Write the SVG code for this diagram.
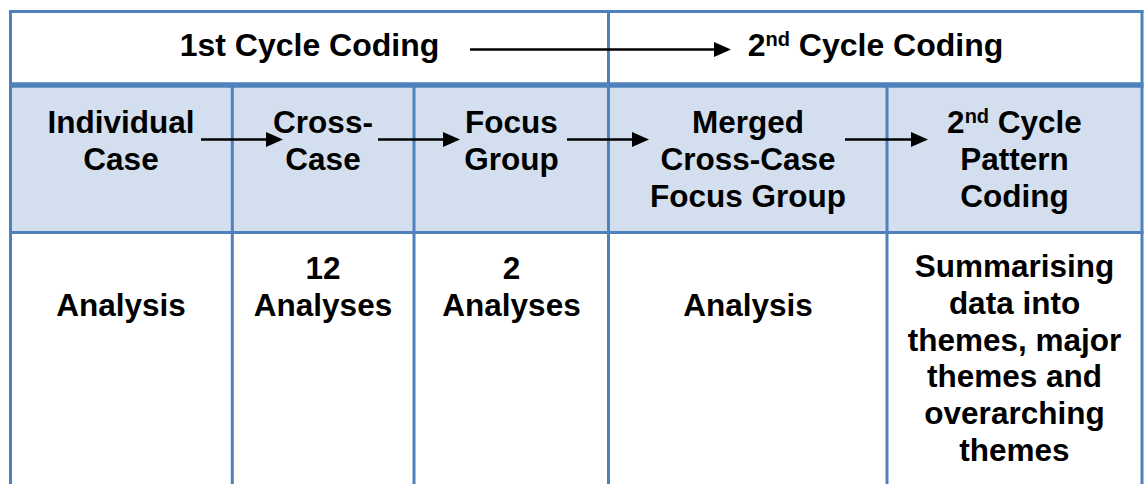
<svg xmlns="http://www.w3.org/2000/svg" width="1144" height="484" viewBox="0 0 1144 484">
  <style>
    .t { font-family: "Liberation Sans", Arial, sans-serif; font-weight: bold; font-size: 31.5px; fill: #000; text-anchor: middle; }
    .title { font-size: 32px; }
    .sup { font-size: 20px; }
    .grid { stroke: #4F81BD; stroke-width: 3; fill: none; }
    .head { fill: #D3DFEE; }
    .body { fill: #FFFFFF; }
    .arrow { stroke: #000; stroke-width: 2.6; fill: none; marker-end: url(#ah); }
  </style>
  <defs>
    <marker id="ah" markerUnits="userSpaceOnUse" markerWidth="17" markerHeight="15" refX="0" refY="7.5" orient="auto">
      <path d="M0,0 L17,7.5 L0,15 Z" fill="#000"/>
    </marker>
  </defs>

  <rect x="0" y="0" width="1144" height="484" fill="#FFFFFF"/>

  <!-- top row: coding cycles -->
  <g id="cycle1">
    <rect class="body" x="10.5" y="11.5" width="598" height="73.5"/>
    <text class="t title" x="309.5" y="56">1st Cycle Coding</text>
  </g>
  <g id="cycle2">
    <rect class="body" x="608.5" y="11.5" width="533.5" height="73.5"/>
    <text class="t title" x="875.5" y="56">2<tspan class="sup" dy="-10">nd</tspan><tspan dy="10"> Cycle Coding</tspan></text>
  </g>

  <!-- header row -->
  <g id="individual-case">
    <rect class="head" x="10.5" y="85" width="222" height="147.5"/>
    <text class="t" x="121" y="133">Individual</text>
    <text class="t" x="121" y="170">Case</text>
  </g>
  <g id="cross-case">
    <rect class="head" x="232.5" y="85" width="181.5" height="147.5"/>
    <text class="t" x="323" y="133">Cross-</text>
    <text class="t" x="323" y="170">Case</text>
  </g>
  <g id="focus-group">
    <rect class="head" x="414" y="85" width="194.5" height="147.5"/>
    <text class="t" x="511.5" y="133">Focus</text>
    <text class="t" x="511.5" y="170">Group</text>
  </g>
  <g id="merged">
    <rect class="head" x="608.5" y="85" width="278.5" height="147.5"/>
    <text class="t" x="748" y="133">Merged</text>
    <text class="t" x="748" y="170">Cross-Case</text>
    <text class="t" x="748" y="207">Focus Group</text>
  </g>
  <g id="pattern-coding">
    <rect class="head" x="887" y="85" width="255" height="147.5"/>
    <text class="t" x="1014.5" y="133">2<tspan class="sup" dy="-10">nd</tspan><tspan dy="10"> Cycle</tspan></text>
    <text class="t" x="1014.5" y="170">Pattern</text>
    <text class="t" x="1014.5" y="207">Coding</text>
  </g>

  <!-- body row -->
  <g id="individual-analysis">
    <text class="t" x="121" y="316">Analysis</text>
  </g>
  <g id="cross-case-analyses">
    <text class="t" x="323" y="278.5">12</text>
    <text class="t" x="323" y="316">Analyses</text>
  </g>
  <g id="focus-group-analyses">
    <text class="t" x="511.5" y="278.5">2</text>
    <text class="t" x="511.5" y="316">Analyses</text>
  </g>
  <g id="merged-analysis">
    <text class="t" x="748" y="316">Analysis</text>
  </g>
  <g id="pattern-summary">
    <text class="t" x="1014.5" y="277">Summarising</text>
    <text class="t" x="1014.5" y="313.8">data into</text>
    <text class="t" x="1014.5" y="350.6">themes, major</text>
    <text class="t" x="1014.5" y="387.4">themes and</text>
    <text class="t" x="1014.5" y="424.2">overarching</text>
    <text class="t" x="1014.5" y="461">themes</text>
  </g>

  <!-- table rules -->
  <g id="grid">
    <line class="grid" x1="9" y1="11.5" x2="1143.5" y2="11.5"/>
    <line class="grid" x1="10.5" y1="10" x2="10.5" y2="484"/>
    <line class="grid" x1="1142" y1="10" x2="1142" y2="484"/>
    <line class="grid" x1="608.5" y1="11.5" x2="608.5" y2="484"/>
    <line class="grid" x1="9" y1="85" x2="1143.5" y2="85" style="stroke-width:5.5"/>
    <line class="grid" x1="9" y1="232.5" x2="1143.5" y2="232.5"/>
    <line class="grid" x1="232.3" y1="85" x2="232.3" y2="484"/>
    <line class="grid" x1="414" y1="85" x2="414" y2="484"/>
    <line class="grid" x1="887" y1="85" x2="887" y2="484"/>
  </g>

  <!-- connectors -->
  <g id="connectors">
    <line class="arrow" x1="470" y1="49.5" x2="714" y2="49.5"/>
    <line class="arrow" x1="201" y1="139.5" x2="266" y2="139.5"/>
    <line class="arrow" x1="378" y1="139.5" x2="443" y2="139.5"/>
    <line class="arrow" x1="567" y1="139.5" x2="632" y2="139.5"/>
    <line class="arrow" x1="845" y1="139.5" x2="911" y2="139.5"/>
  </g>
</svg>
